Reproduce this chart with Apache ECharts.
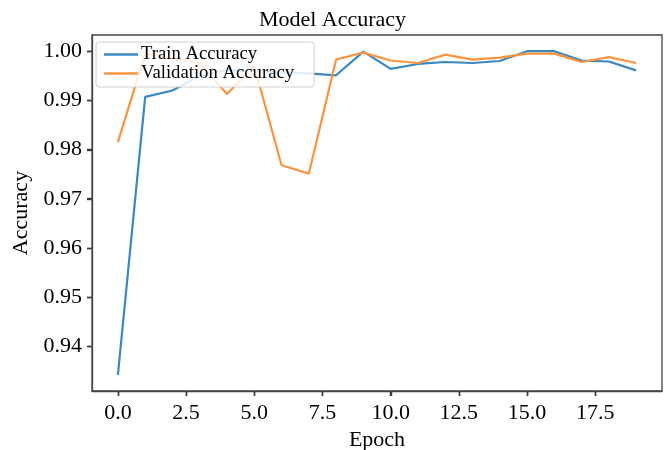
<!DOCTYPE html>
<html>
<head>
<meta charset="utf-8">
<script src="https://cdn.jsdelivr.net/npm/echarts@6/dist/echarts.min.js"></script>
<style>html,body{margin:0;padding:0;background:#fff}#c{width:665px;height:450px}</style>
</head>
<body>
<div id="c"></div>
<script>
const epochs = [0,1,2,3,4,5,6,7,8,9,10,11,12,13,14,15,16,17,18,19];
const trainAcc = [0.9342,0.9907,0.9920,0.9950,0.9962,0.9960,0.9957,0.9955,0.9951,0.9999,0.9964,0.9974,0.9978,0.9976,0.9980,1.0000,1.0000,0.9981,0.9979,0.9961];
const valAcc = [0.9815,0.9995,0.9985,0.9975,0.9913,0.9970,0.9768,0.9751,0.9983,0.9997,0.9981,0.9976,0.9993,0.9983,0.9987,0.9995,0.9995,0.9978,0.9988,0.9976];
const xTicks = [0,2.5,5,7.5,10,12.5,15,17.5];
const yTicks = [0.94,0.95,0.96,0.97,0.98,0.99,1.00];

const xMin = -0.95, xMax = 19.95, yMin = 0.93091, yMax = 1.00329;
const font = 'Liberation Serif';
const tickLine = {color: '#3a3a3a', width: 1.4};
const chart = echarts.init(document.getElementById('c'));
chart.setOption({
  animation: false,
  title: {text: 'Model Accuracy', left: 'center', top: 4,
    textStyle: {fontFamily: font, fontSize: 22, fontWeight: 'normal', color: '#000'}},
  grid: {left: 92, right: 3, top: 35, bottom: 59, containLabel: false, outerBoundsMode: 'none',
    show: true, borderColor: '#444', borderWidth: 1.3, backgroundColor: 'transparent'},
  legend: {orient: 'vertical', left: 96, top: 42, data: ['Train Accuracy','Validation Accuracy'],
    icon: 'rect',
    backgroundColor: 'rgba(255,255,255,0.85)', borderColor: '#d0d0d0', borderWidth: 1, borderRadius: 3,
    padding: [3, 20, 4, 8], itemWidth: 34, itemHeight: 2.5, itemGap: 0,
    textStyle: {fontFamily: font, fontSize: 18.7, lineHeight: 19, color: '#000', padding: [0,0,0,-2]}},
  xAxis: [
    {type: 'value', min: xMin, max: xMax,
      name: 'Epoch', nameLocation: 'middle', nameGap: 37,
      nameTextStyle: {fontFamily: font, fontSize: 22, color: '#000'},
      axisLine: {show: true, lineStyle: {color: '#444', width: 1.3}}, splitLine: {show: false},
      axisTick: {show: true, length: 5, customValues: xTicks, lineStyle: tickLine},
      axisLabel: {customValues: xTicks, fontFamily: font, fontSize: 22, color: '#000', margin: 11,
        formatter: v => v.toFixed(1)}},
    {type: 'value', min: 1, max: 2, show: false}
  ],
  yAxis: {type: 'value', min: yMin, max: yMax,
    name: 'Accuracy', nameLocation: 'middle', nameGap: 55,
    nameTextStyle: {fontFamily: font, fontSize: 22, color: '#000'},
    axisLine: {show: true, onZero: true, onZeroAxisIndex: 1, lineStyle: {color: '#444', width: 1.3}}, splitLine: {show: false},
    axisTick: {show: true, length: 5, customValues: yTicks, lineStyle: tickLine},
    axisLabel: {customValues: yTicks, fontFamily: font, fontSize: 22, color: '#000', margin: 10,
      formatter: v => v.toFixed(2)}},
  series: [
    {name: 'Train Accuracy', type: 'line', xAxisIndex: 0, data: epochs.map((e,i)=>[e, trainAcc[i]]),
      symbol: 'none', lineStyle: {color: '#3a87c2', width: 2.2}, itemStyle: {color: '#3a87c2'}, z: 2},
    {name: 'Validation Accuracy', type: 'line', xAxisIndex: 0, data: epochs.map((e,i)=>[e, valAcc[i]]),
      symbol: 'none', lineStyle: {color: '#fa9440', width: 2.2}, itemStyle: {color: '#fa9440'}, z: 3}
  ]
});
// backup tick marks placed through the chart's own scales (same positions as the axis ticks)
const tickEls = [];
const tickStyle = {stroke: '#3a3a3a', lineWidth: 1.4};
xTicks.forEach(v => {
  const p = chart.convertToPixel({xAxisIndex: 0, yAxisIndex: 0}, [v, yMin]);
  if (!p) return;
  const x = Math.round(p[0]) + 0.5;
  tickEls.push({type: 'line', silent: true, z: 100, shape: {x1: x, y1: p[1], x2: x, y2: p[1] + 5}, style: tickStyle});
});
yTicks.forEach(v => {
  const p = chart.convertToPixel({xAxisIndex: 0, yAxisIndex: 0}, [xMin, v]);
  if (!p) return;
  const y = Math.round(p[1]) + 0.5;
  tickEls.push({type: 'line', silent: true, z: 100, shape: {x1: p[0] - 5, y1: y, x2: p[0], y2: y}, style: tickStyle});
});
chart.setOption({graphic: {elements: tickEls}});
</script>
</body>
</html>
